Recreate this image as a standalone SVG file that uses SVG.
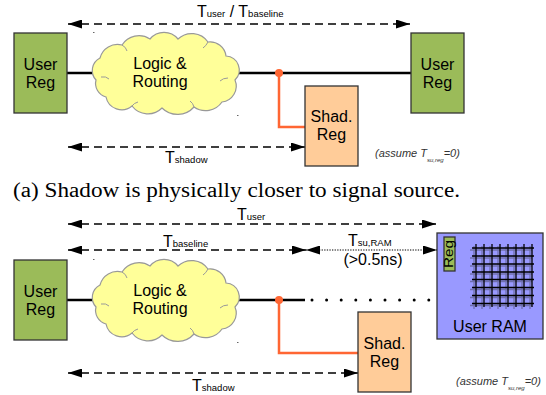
<svg xmlns="http://www.w3.org/2000/svg" width="546" height="395" viewBox="0 0 546 395">
<defs>
<style>
text{font-family:"Liberation Sans",Arial,sans-serif;fill:#000}
.lbl{font-size:16px;text-anchor:middle}
.reg{fill:#9bbb59;stroke:#333;stroke-width:1.3}
.shad{fill:#ffcc99;stroke:#333;stroke-width:1.3}
.cloud{fill:#ffff99;stroke:#999;stroke-width:1.2}
.cin{fill:none;stroke:#999;stroke-width:1}
.wire{stroke:#000;stroke-width:2.5;fill:none}
.orange{stroke:#ff6633;stroke-width:2.5;fill:none}
.odot{fill:#ff6633}
.dash{stroke:#000;stroke-width:1.3;stroke-dasharray:8 5;fill:none;marker-start:url(#ah);marker-end:url(#ah)}
.dotted{stroke:#000;stroke-width:1.2;stroke-dasharray:1.3 1.3;fill:none;marker-start:url(#ah);marker-end:url(#ah)}
.dots{stroke:#000;stroke-width:3;stroke-linecap:round;stroke-dasharray:0 14.6;fill:none}
.T{font-size:16px}
.sub{font-size:9.5px}
.as{font-size:11px;font-style:italic;fill:#333}
.as6{font-size:6px}
.grid{stroke:#000;stroke-width:1.3}
.gsh{stroke:#333;stroke-width:1.3;opacity:.4}
.speck{fill:#666}
.cap{font-family:"Liberation Serif","Times New Roman",serif;font-size:20px}
</style>
<marker id="ah" markerUnits="userSpaceOnUse" viewBox="0 0 14 9" markerWidth="14" markerHeight="9" refX="14" refY="4.5" orient="auto-start-reverse"><path d="M0,0 L14,4.5 L0,9 Z" fill="#000"/></marker>
<g id="cloudshape">
<path class="cloud" d="M100,58 A18,18 0 0 1 122,45 A20,20 0 0 1 150,39 A18,18 0 0 1 178,39 A20,20 0 0 1 208,42 A16,16 0 0 1 226,56 A14,14 0 0 1 235,80 A16,16 0 0 1 222,102 A20,20 0 0 1 194,107 A22,22 0 0 1 162,108 A20,20 0 0 1 132,106 A16,16 0 0 1 106,97 A14,14 0 0 1 96,80 A14,14 0 0 1 100,58 Z"/>
<path class="cin" d="M101,77 q5,-1 8,2 M122,45 q4,2 5,6 M208,42 q-2,4 -5,6 M228,78 q-5,0 -8,3 M194,107 q-1,-4 -4,-6 M132,106 q2,-3 6,-4"/>
</g>
</defs>

<g id="connectors">
<line class="dash" x1="68" y1="24" x2="410" y2="24"/>
<line class="dash" x1="68" y1="147" x2="305" y2="147"/>
<line class="wire" x1="67" y1="73" x2="95" y2="73"/>
<line class="wire" x1="235" y1="73" x2="411" y2="73"/>
<path class="orange" d="M279,73 V127 H305"/>
<circle class="odot" cx="279" cy="73" r="4"/>
<line class="dash" x1="68" y1="224" x2="436" y2="224"/>
<line class="dash" x1="68" y1="250" x2="306" y2="250"/>
<line class="dotted" x1="306" y1="250" x2="437" y2="250"/>
<line class="dash" x1="68" y1="373" x2="358" y2="373"/>
<line class="wire" x1="67" y1="300" x2="95" y2="300"/>
<line class="wire" x1="235" y1="300" x2="305" y2="300"/>
<line class="dots" x1="312" y1="300" x2="431" y2="300"/>
<path class="orange" d="M279,300 V353 H358"/>
<circle class="odot" cx="279" cy="300" r="4"/>
</g>

<g id="labels">
<text x="197" y="17"><tspan class="T">T</tspan><tspan class="sub">user</tspan><tspan class="T"> / T</tspan><tspan class="sub">baseline</tspan></text>
<text x="165" y="163"><tspan class="T">T</tspan><tspan class="sub">shadow</tspan></text>
<text class="as" x="375" y="157">(assume T<tspan class="as6" dy="5">su,reg</tspan><tspan dy="-5">=0)</tspan></text>
<text x="237" y="220"><tspan class="T">T</tspan><tspan class="sub">user</tspan></text>
<text x="163" y="247"><tspan class="T">T</tspan><tspan class="sub">baseline</tspan></text>
<text x="348" y="246"><tspan class="T">T</tspan><tspan class="sub">su,RAM</tspan></text>
<text class="lbl" x="373" y="265">(&gt;0.5ns)</text>
<text x="192" y="391"><tspan class="T">T</tspan><tspan class="sub">shadow</tspan></text>
<text class="as" x="456" y="385">(assume T<tspan class="as6" dy="5">su,reg</tspan><tspan dy="-5">=0)</tspan></text>
<text class="cap" x="13" y="197" textLength="447" lengthAdjust="spacingAndGlyphs">(a) Shadow is physically closer to signal source.</text>
</g>

<g id="userreg-top-left">
<rect class="reg" x="14" y="33" width="53" height="80"/>
<text class="lbl" x="40.5" y="70">User</text>
<text class="lbl" x="40.5" y="88">Reg</text>
</g>
<g id="cloud-top">
<use href="#cloudshape"/>
<text class="lbl" x="160" y="69">Logic &amp;</text>
<text class="lbl" x="160" y="87">Routing</text>
</g>
<g id="userreg-top-right">
<rect class="reg" x="411" y="33" width="53" height="80"/>
<text class="lbl" x="437.5" y="70">User</text>
<text class="lbl" x="437.5" y="88">Reg</text>
</g>
<g id="shadreg-top">
<rect class="shad" x="305" y="86" width="53" height="80"/>
<text class="lbl" x="331.5" y="122">Shad.</text>
<text class="lbl" x="331.5" y="140">Reg</text>
</g>

<g id="userreg-bottom">
<rect class="reg" x="14" y="260" width="53" height="80"/>
<text class="lbl" x="40.5" y="297">User</text>
<text class="lbl" x="40.5" y="315">Reg</text>
</g>
<g id="cloud-bottom">
<use href="#cloudshape" transform="translate(0,227)"/>
<text class="lbl" x="160" y="296">Logic &amp;</text>
<text class="lbl" x="160" y="314">Routing</text>
</g>
<g id="shadreg-bottom">
<rect class="shad" x="358" y="312" width="53" height="80"/>
<text class="lbl" x="384.5" y="349">Shad.</text>
<text class="lbl" x="384.5" y="367">Reg</text>
</g>
<g id="userram">
<rect x="437" y="233" width="106" height="106" fill="#9999ff" stroke="#333" stroke-width="1.3"/>
<rect class="reg" x="444" y="237" width="11" height="34"/>
<text transform="translate(453,254) rotate(-90)" text-anchor="middle" font-size="13" textLength="28" lengthAdjust="spacingAndGlyphs">Reg</text>
<g class="gsh" transform="translate(-2,2)">
<line x1="476" y1="244" x2="476" y2="307"/><line x1="484" y1="244" x2="484" y2="307"/><line x1="492" y1="244" x2="492" y2="307"/><line x1="500" y1="244" x2="500" y2="307"/><line x1="508" y1="244" x2="508" y2="307"/><line x1="516" y1="244" x2="516" y2="307"/><line x1="524" y1="244" x2="524" y2="307"/><line x1="532" y1="244" x2="532" y2="307"/>
<line x1="472" y1="248" x2="534" y2="248"/><line x1="472" y1="256" x2="534" y2="256"/><line x1="472" y1="264" x2="534" y2="264"/><line x1="472" y1="272" x2="534" y2="272"/><line x1="472" y1="279.5" x2="534" y2="279.5"/><line x1="472" y1="287.5" x2="534" y2="287.5"/><line x1="472" y1="295.5" x2="534" y2="295.5"/><line x1="472" y1="303.5" x2="534" y2="303.5"/>
</g>
<g class="grid">
<line x1="476" y1="244" x2="476" y2="307"/><line x1="484" y1="244" x2="484" y2="307"/><line x1="492" y1="244" x2="492" y2="307"/><line x1="500" y1="244" x2="500" y2="307"/><line x1="508" y1="244" x2="508" y2="307"/><line x1="516" y1="244" x2="516" y2="307"/><line x1="524" y1="244" x2="524" y2="307"/><line x1="532" y1="244" x2="532" y2="307"/>
<line x1="472" y1="248" x2="534" y2="248"/><line x1="472" y1="256" x2="534" y2="256"/><line x1="472" y1="264" x2="534" y2="264"/><line x1="472" y1="272" x2="534" y2="272"/><line x1="472" y1="279.5" x2="534" y2="279.5"/><line x1="472" y1="287.5" x2="534" y2="287.5"/><line x1="472" y1="295.5" x2="534" y2="295.5"/><line x1="472" y1="303.5" x2="534" y2="303.5"/>
</g>
<text class="lbl" x="490" y="332">User RAM</text>
</g>

<g id="specks">
<rect class="speck" x="93" y="32" width="1.5" height="1"/>
<rect class="speck" x="237" y="115" width="1.5" height="1"/>
<rect class="speck" x="93" y="259" width="1.5" height="1"/>
<rect class="speck" x="237" y="342" width="1.5" height="1"/>
</g>
</svg>
